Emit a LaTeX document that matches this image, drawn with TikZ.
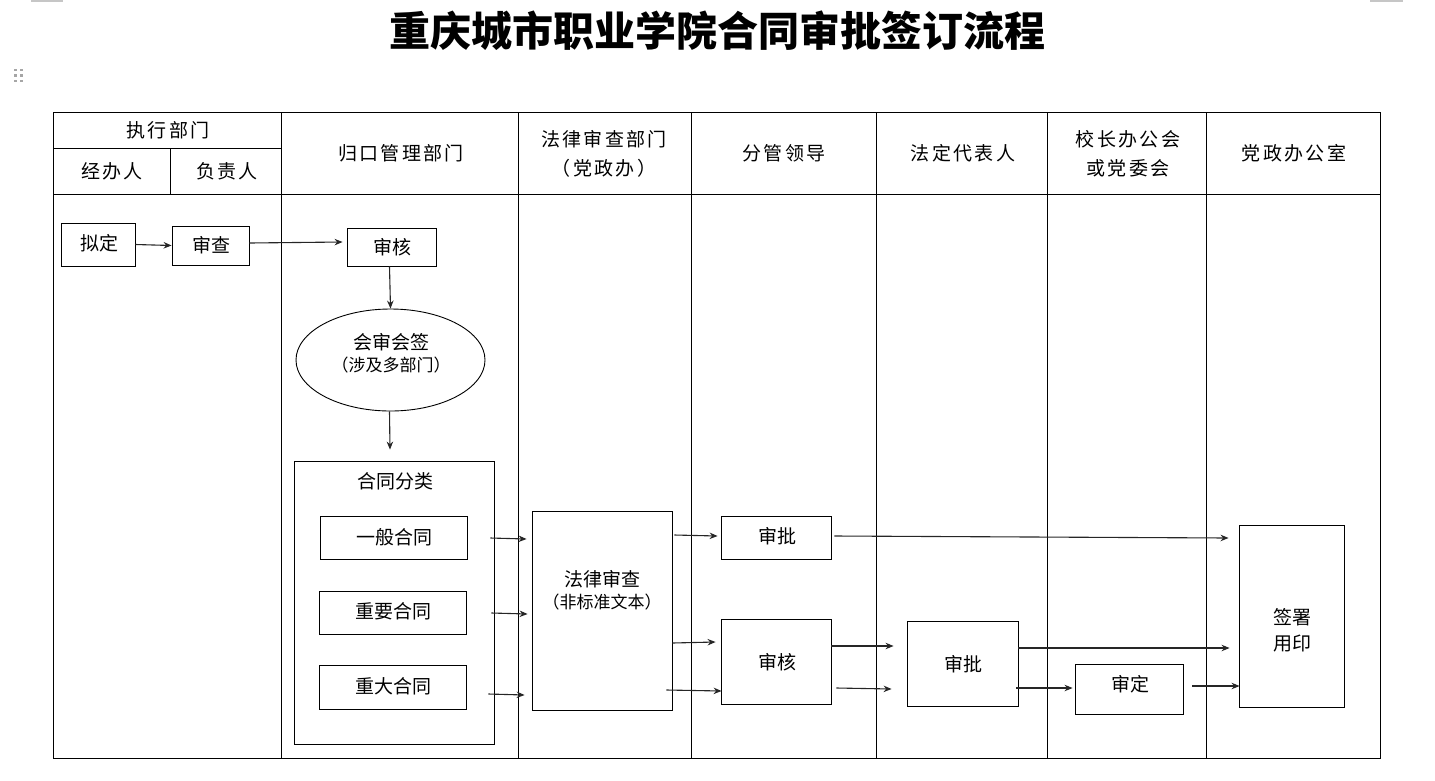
\documentclass[tikz,border=0pt]{standalone}
\usepackage{fontspec}
\setmainfont{Noto Sans CJK SC}
\usetikzlibrary{arrows.meta,calc,shapes.geometric}
\tikzset{
  grid/.style={line width=0.9pt, black},
  box/.style={draw, line width=0.9pt, inner sep=0pt, rectangle},
  ell/.style={draw, line width=0.9pt, ellipse, inner sep=0pt},
  txt/.style={font=\fontsize{19}{22}\selectfont, inner sep=0pt},
  small/.style={font=\fontsize{17}{20}\selectfont, inner sep=0pt},
  hdr/.style={font=\fontsize{19}{29}\selectfont\addfontfeature{LetterSpace=12}, align=center, inner sep=0pt},
  arr/.style={line width=1.1pt, black!85, -{Stealth[length=8pt,width=6.5pt]}},
}
\begin{document}
\begin{tikzpicture}[x=1pt,y=-1pt]
\useasboundingbox (0,0) rectangle (1435,780);
% page marks
\draw[gray!45, line width=1.5pt] (31,0.75) -- (63,0.75);
\draw[gray!45, line width=1.5pt] (1370,0.75) -- (1403,0.75);
\foreach \dx in {15.5,21.5} \foreach \dy in {70,75.5,81}
  \fill[gray!70] (\dx-1.3,\dy-1.3) rectangle (\dx+1.3,\dy+1.3);
% title
\node[font=\fontsize{41}{42}\selectfont\bfseries, inner sep=0pt] (title) at (717,31) {重庆城市职业学院合同审批签订流程};
% table
\draw[grid] (53,112) rectangle (1380,758);
\draw[grid] (53,194) -- (1380,194);
\draw[grid] (53,148) -- (281,148);
\draw[grid] (170,148) -- (170,194);
\foreach \cx in {281,518,691,876,1047,1206}
  \draw[grid] (\cx,112) -- (\cx,758);
% headers
\node[hdr] (h0) at (168,130) {执行部门};
\node[hdr] (h01) at (112,171) {经办人};
\node[hdr] (h02) at (227,171) {负责人};
\node[hdr] (h1) at (401,153) {归口管理部门};
\node[hdr] (h2) at (604,153.5) {法律审查部门\\（党政办）};
\node[hdr] (h3) at (784,153) {分管领导};
\node[hdr] (h4) at (963,153) {法定代表人};
\node[hdr] (h5) at (1128,153.5) {校长办公会\\或党委会};
\node[hdr] (h6) at (1294,153) {党政办公室};
% nodes
\node[box, minimum width=74, minimum height=43] (n1) at (98,244.5) {};
\node[txt] (n1t) at (99,243) {拟定};
\node[box, minimum width=77, minimum height=39] (n2) at (210.5,245.5) {};
\node[txt] (n2t) at (211,245.5) {审查};
\node[box, minimum width=89, minimum height=38] (n3) at (391.5,247) {};
\node[txt] (n3t) at (392,247) {审核};
\node[ell, minimum width=189, minimum height=102] (e1) at (390.5,360) {};
\node[txt] (e1t) at (391,342) {会审会签};
\node[small] (e1s) at (391,365) {（涉及多部门）};
\node[box, minimum width=200, minimum height=283] (cls) at (394,602.5) {};
\node[txt] (clst) at (395,481) {合同分类};
\node[box, minimum width=147, minimum height=43] (g1) at (393.5,537.5) {};
\node[txt] (g1t) at (394,537) {一般合同};
\node[box, minimum width=147, minimum height=43] (g2) at (392.5,612.5) {};
\node[txt] (g2t) at (393,611) {重要合同};
\node[box, minimum width=147, minimum height=44] (g3) at (392.5,687) {};
\node[txt] (g3t) at (393,686) {重大合同};
\node[box, minimum width=140, minimum height=199] (law) at (602,610.5) {};
\node[txt] (lawt) at (602,579) {法律审查};
\node[small] (laws) at (602,602) {（非标准文本）};
\node[box, minimum width=110, minimum height=43] (a1) at (776,537.5) {};
\node[txt] (a1t) at (777,536) {审批};
\node[box, minimum width=110, minimum height=85] (a2) at (776,661.5) {};
\node[txt] (a2t) at (777,662) {审核};
\node[box, minimum width=111, minimum height=85] (b1) at (962.5,663.5) {};
\node[txt] (b1t) at (963,664) {审批};
\node[box, minimum width=108, minimum height=50] (c1) at (1129,689) {};
\node[txt] (c1t) at (1130,684) {审定};
\node[box, minimum width=105, minimum height=182] (s1) at (1291.5,616) {};
\node[txt, align=center, font=\fontsize{19}{26}\selectfont] (s1t) at (1292,630) {签署\\用印};
% connectors
\draw[arr] (n1.east) -- (n2.west);
\draw[arr] ($(n2.east)+(0,-2.5)$) -- ($(n3.west)+(-4,-5)$);
\draw[arr] ($(n3.south)+(-2,0)$) -- (e1.north);
\draw[arr] ($(e1.south)+(-1,0)$) -- ($(cls.north)+(-4,-11)$);
\draw[arr] ($(g1.east)+(23,0.5)$) -- ($(law.west)+(-5,-71.5)$);
\draw[arr] ($(g2.east)+(25,0.5)$) -- ($(law.west)+(-4,3.5)$);
\draw[arr] ($(g3.east)+(22,7)$) -- ($(law.west)+(-7,84.5)$);
\draw[arr] ($(law.east)+(2,-75.5)$) -- ($(a1.west)+(-3,-1.5)$);
\draw[arr] ($(law.east)+(0,32.5)$) -- ($(a2.west)+(-5,-19.5)$);
\draw[arr] ($(law.east)+(-6,79.5)$) -- ($(a2.west)+(1,29.5)$);
\draw[arr] ($(a1.east)+(3,-1.5)$) -- ($(s1.west)+(-10,-78)$);
\draw[arr] ($(a2.east)+(0,-15.5)$) -- ($(b1.west)+(-13,-17.5)$);
\draw[arr] ($(a2.east)+(5,26.5)$) -- ($(b1.west)+(-15,25.5)$);
\draw[arr] ($(b1.east)+(0,-15.5)$) -- ($(s1.west)+(-9,32)$);
\draw[arr] ($(b1.east)+(-2,24.5)$) -- ($(c1.west)+(-2,-1)$);
\draw[arr] ($(c1.east)+(9,-3)$) -- ($(s1.west)+(1,70)$);
\end{tikzpicture}
\end{document}
